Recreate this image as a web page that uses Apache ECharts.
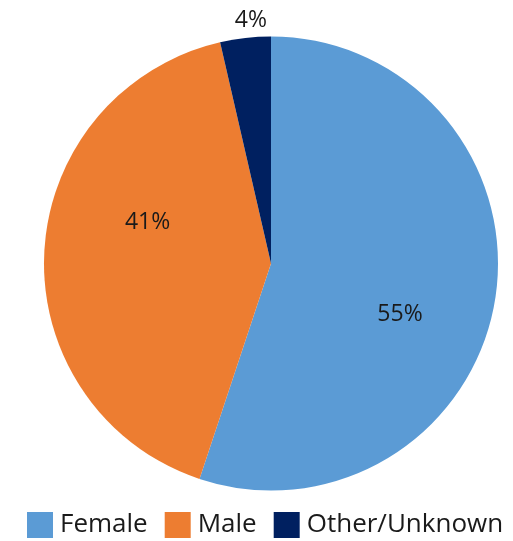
<!DOCTYPE html>
<html>
<head>
<meta charset="utf-8">
<script src="https://cdn.jsdelivr.net/npm/echarts@6/dist/echarts.min.js"></script>
<style>html,body{margin:0;padding:0;background:#fff;}#c{width:513px;height:541px;}</style>
</head>
<body>
<div id="c"></div>
<script>
const categories = ['Female', 'Male', 'Other/Unknown'];
const values = [55.1, 41.3, 3.6];
const colors = ['#5B9BD5', '#ED7D31', '#002060'];
const labelOffsets = [[14, 32], [-7, -36], [-7, -127]];

const chart = echarts.init(document.getElementById('c'), null, {renderer: 'canvas'});
const FONT = '"Open Sans", "Noto Sans", sans-serif';
chart.setOption({
  animation: false,
  color: colors,
  legend: {
    data: categories,
    left: 27,
    top: 512,
    padding: 0,
    itemWidth: 26,
    itemHeight: 26,
    itemGap: 17,
    icon: 'rect',
    textStyle: {fontFamily: FONT, fontSize: 26, color: '#1a1a1a', padding: [0, 0, 0, 2], lineHeight: 26}
  },
  series: [{
    type: 'pie',
    center: [271, 263.5],
    radius: [0, 227],
    startAngle: 90,
    clockwise: true,
    avoidLabelOverlap: false,
    itemStyle: {borderWidth: 0},
    label: {
      show: true,
      position: 'inside',
      fontFamily: FONT,
      fontSize: 23,
      color: '#1a1a1a',
      formatter: p => Math.round(p.value) + '%'
    },
    labelLine: {show: false},
    emphasis: {disabled: true},
    data: categories.map((name, i) => ({
      name: name,
      value: values[i],
      label: {offset: labelOffsets[i]}
    }))
  }]
});
</script>
</body>
</html>
